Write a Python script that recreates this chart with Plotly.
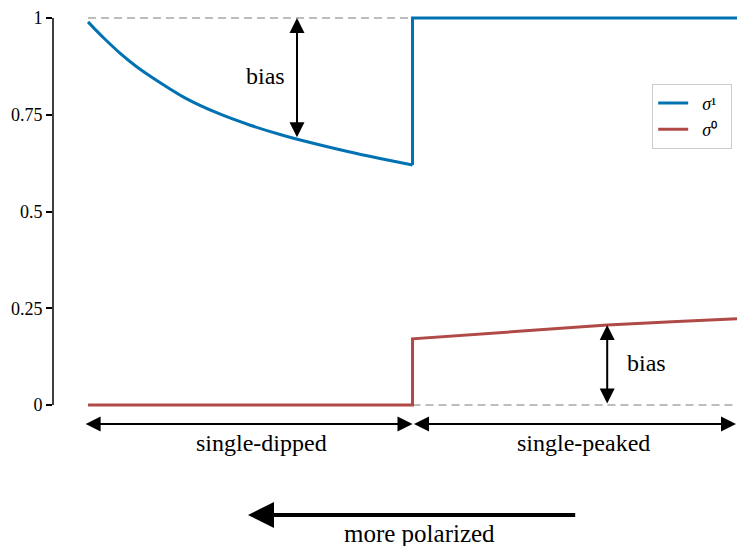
import plotly.graph_objects as go

# ---- data ----
x_left = [0, 0.0125, 0.025, 0.05, 0.075, 0.1, 0.15, 0.2, 0.25, 0.3, 0.35, 0.4, 0.45, 0.5]
sigma1_left = [0.99, 0.968, 0.947, 0.908, 0.874, 0.845, 0.793, 0.754, 0.723, 0.697, 0.675, 0.655, 0.637, 0.620]
sigma0_left = [0, 0, 0, 0, 0, 0, 0, 0, 0, 0, 0, 0, 0, 0]

x_right = [0.5, 0.6, 0.7, 0.8, 0.9, 1.0]
sigma1_right = [1.0, 1.0, 1.0, 1.0, 1.0, 1.0]
sigma0_right = [0.171, 0.183, 0.194, 0.2065, 0.215, 0.223]

ref_top_x = [0, 0.5]
ref_top_y = [1, 1]
ref_bot_x = [0.5, 1.0]
ref_bot_y = [0, 0]

ytick_vals = [0, 0.25, 0.5, 0.75, 1]
ytick_text = ["0", "0.25", "0.5", "0.75", "1"]

bias_top_x, bias_top_lo = 0.322, 0.688
bias_bot_x, bias_bot_hi = 0.800, 0.2065

regions = ["single-dipped", "single-peaked"]
region_bounds = [(-0.006, 0.5), (0.5, 1.005)]
region_label_x = [0.2666, 0.763]

BLUE = "#0072b2"
RED = "#b04a47"
FONT = "Liberation Serif"

W, H = 737, 546
ML, MR, MT, MB = 53, 0, 10, 131
PW, PH = W - ML - MR, H - MT - MB
xr = [-0.054, 1.0]
yr = [-0.0258, 1.0207]


def px(v):  # data x -> paper
    return (v - xr[0]) / (xr[1] - xr[0])


def py(v):  # data y -> paper
    return (v - yr[0]) / (yr[1] - yr[0])


NB = "\u00a0"
fig = go.Figure()
fig.add_trace(go.Scatter(x=ref_top_x, y=ref_top_y, mode="lines", showlegend=False,
                         line=dict(color="#bdbdbd", width=2, dash="8px,5px"), hoverinfo="skip"))
fig.add_trace(go.Scatter(x=ref_bot_x, y=ref_bot_y, mode="lines", showlegend=False,
                         line=dict(color="#bdbdbd", width=2, dash="8px,5px"), hoverinfo="skip"))
# sigma^1: smooth left branch + jump and flat right branch
fig.add_trace(go.Scatter(x=x_left, y=sigma1_left, mode="lines", legendgroup="s1", showlegend=False,
                         line=dict(color=BLUE, width=3, shape="spline", smoothing=0.8)))
fig.add_trace(go.Scatter(x=[x_left[-1]] + x_right, y=[sigma1_left[-1]] + sigma1_right, mode="lines",
                         legendgroup="s1", name=NB * 2 + "<i>σ</i>\u00b9" + NB * 2,
                         line=dict(color=BLUE, width=3)))
fig.add_trace(go.Scatter(x=x_left + x_right, y=sigma0_left + sigma0_right, mode="lines",
                         legendgroup="s0", name=NB * 2 + "<i>σ</i>\u2070" + NB * 2,
                         line=dict(color=RED, width=3)))

ann = []


def darrow(x0, y0, x1, y1, w=2, size=1.5, both=True, head=2):
    # tip at (x1, y1), tail at (x0, y0), in data units, drawn in paper/pixel refs
    ax = (x0 - x1) / (xr[1] - xr[0]) * PW
    ay = -(y0 - y1) / (yr[1] - yr[0]) * PH
    ann.append(dict(x=px(x1), y=py(y1), ax=ax, ay=ay, xref="paper", yref="paper",
                    axref="pixel", ayref="pixel",
                    text="", showarrow=True, arrowhead=head, arrowsize=size, arrowwidth=w,
                    arrowcolor="black", arrowside="end+start" if both else "end",
                    standoff=0, startstandoff=0))


def label(x, y, t, size=24):
    ann.append(dict(x=px(x), y=py(y), xref="paper", yref="paper", text=t, showarrow=False,
                    xanchor="center", yanchor="middle",
                    font=dict(family=FONT, size=size, color="black")))


darrow(bias_top_x, bias_top_lo, bias_top_x, 1.0)
darrow(bias_bot_x, 0.0, bias_bot_x, bias_bot_hi)
label(0.273, 0.850, "bias")
label(0.860, 0.1085, "bias")

for (a, b), lab, lx in zip(region_bounds, regions, region_label_x):
    darrow(a, -0.049, b, -0.049)
    label(lx, -0.098, lab)

darrow(0.753, -0.284, 0.2465, -0.284, w=4, size=1.3, both=False)
label(0.510, -0.331, "more polarized", size=25)

# y spine from 0 to 1 only
fig.add_shape(type="line", xref="paper", yref="paper", x0=0, x1=0,
              y0=py(0), y1=py(1), line=dict(color="black", width=1.5))

fig.update_layout(
    width=W, height=H,
    margin=dict(l=ML, r=MR, t=MT, b=MB, pad=0),
    plot_bgcolor="white", paper_bgcolor="white",
    font=dict(family=FONT, size=18, color="black"),
    annotations=ann,
    showlegend=True,
    legend=dict(x=0.876, y=0.818, xanchor="left", yanchor="top",
                bgcolor="white", bordercolor="#cccccc", borderwidth=1,
                tracegroupgap=0, font=dict(family=FONT, size=18)),
    xaxis=dict(range=xr, showgrid=False, zeroline=False, showline=False,
               showticklabels=False, ticks=""),
    yaxis=dict(range=yr, showgrid=False, zeroline=False, showline=False,
               tickvals=ytick_vals, ticktext=ytick_text, ticks="outside",
               ticklen=6, tickwidth=1.5, tickcolor="black",
               tickfont=dict(family=FONT, size=18)),
)

fig.write_html("out.html")
